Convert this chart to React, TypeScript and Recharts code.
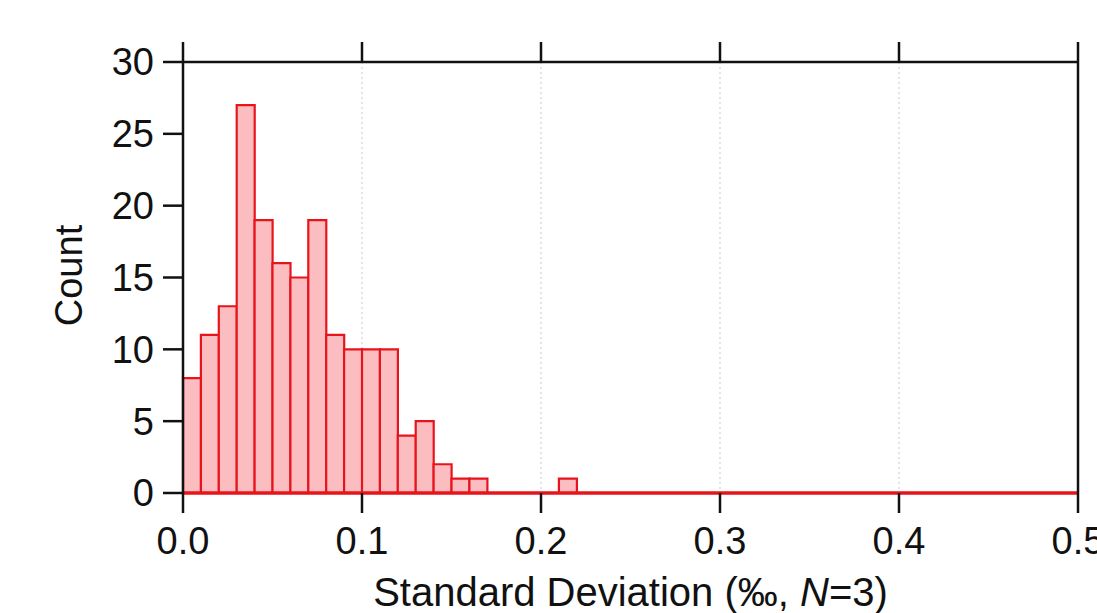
import {
  Bar,
  BarChart,
  CartesianGrid,
  Label,
  ReferenceLine,
  XAxis,
  YAxis,
} from "recharts";

// counts per 0.01-wide bin, 0.00 .. 0.50
const counts = [
  8, 11, 13, 27, 19, 16, 15, 19, 11, 10,
  10, 10, 4, 5, 2, 1, 1, 0, 0, 0,
  0, 1, 0, 0, 0, 0, 0, 0, 0, 0,
  0, 0, 0, 0, 0, 0, 0, 0, 0, 0,
  0, 0, 0, 0, 0, 0, 0, 0, 0, 0,
];
const binWidth = 0.01;
const xTicks = [0, 0.1, 0.2, 0.3, 0.4, 0.5];
const yTicks = [0, 5, 10, 15, 20, 25, 30];

const data = counts.map((count, i) => ({
  bin: (i * binWidth).toFixed(2),
  mid: i * binWidth + binWidth / 2,
  count,
}));

const FONT = "'Liberation Sans', Arial, Helvetica, sans-serif";
const RED = "#e8141c";
const tickStyle = { fontSize: 38, fill: "#111", fontFamily: FONT };
const axisLine = { stroke: "#111", strokeWidth: 2.5 };

export default function App() {
  return (
    <div
      style={{
        position: "fixed",
        left: 0,
        top: 0,
        width: 1097,
        height: 613,
        overflow: "hidden",
        background: "#fff",
      }}
    >
      <BarChart
        width={1180}
        height={613}
        data={data}
        barCategoryGap={0}
        barGap={0}
        margin={{ top: 42, right: 82, bottom: 0, left: 0 }}
      >
        <CartesianGrid
          xAxisId="num"
          yAxisId="left"
          horizontal={false}
          stroke="#c9c9d4"
          strokeDasharray="2 3"
        />
        <XAxis dataKey="bin" xAxisId="cat" hide height={0} />
        <XAxis
          xAxisId="num"
          dataKey="mid"
          type="number"
          domain={[0, 0.5]}
          ticks={xTicks}
          allowDataOverflow
          height={120}
          tickSize={20}
          tickMargin={14}
          tick={tickStyle}
          tickLine={axisLine}
          axisLine={{ stroke: RED, strokeWidth: 3 }}
          tickFormatter={(v: number) => v.toFixed(1)}
        >
          <Label
            content={(props: any) => {
              const vb = props.viewBox || {};
              return (
                <text
                  x={vb.x + vb.width / 2}
                  y={vb.y + 113}
                  textAnchor="middle"
                  fontSize={40}
                  fontFamily={FONT}
                  fill="#111"
                >
                  Standard Deviation (‰,{" "}
                  <tspan fontStyle="italic">N</tspan>=3)
                </text>
              );
            }}
          />
        </XAxis>
        <XAxis
          xAxisId="top"
          orientation="top"
          dataKey="mid"
          type="number"
          domain={[0, 0.5]}
          ticks={xTicks}
          allowDataOverflow
          height={20}
          tickSize={20}
          tickLine={axisLine}
          axisLine={axisLine}
          tickFormatter={() => ""}
        />
        <YAxis
          yAxisId="left"
          domain={[0, 30]}
          ticks={yTicks}
          width={183}
          tickSize={20}
          tickMargin={9}
          tick={tickStyle}
          tickLine={axisLine}
          axisLine={axisLine}
        >
          <Label
            content={() => {
              const cy = 62 + (493 - 62) / 2 - 2;
              return (
                <text
                  x={82}
                  y={cy}
                  transform={`rotate(-90 82 ${cy})`}
                  textAnchor="middle"
                  fontSize={38}
                  fontFamily={FONT}
                  fill="#111"
                >
                  Count
                </text>
              );
            }}
          />
        </YAxis>
        <YAxis
          yAxisId="right"
          orientation="right"
          domain={[0, 30]}
          ticks={yTicks}
          width={20}
          tickSize={20}
          tickLine={axisLine}
          axisLine={axisLine}
          tickFormatter={() => ""}
        />
        <Bar
          dataKey="count"
          xAxisId="cat"
          yAxisId="left"
          fill="#fcbdc0"
          stroke={RED}
          strokeWidth={2.2}
          isAnimationActive={false}
        />
        <ReferenceLine
          xAxisId="cat"
          yAxisId="left"
          y={0}
          stroke={RED}
          strokeWidth={3}
        />
      </BarChart>
    </div>
  );
}
